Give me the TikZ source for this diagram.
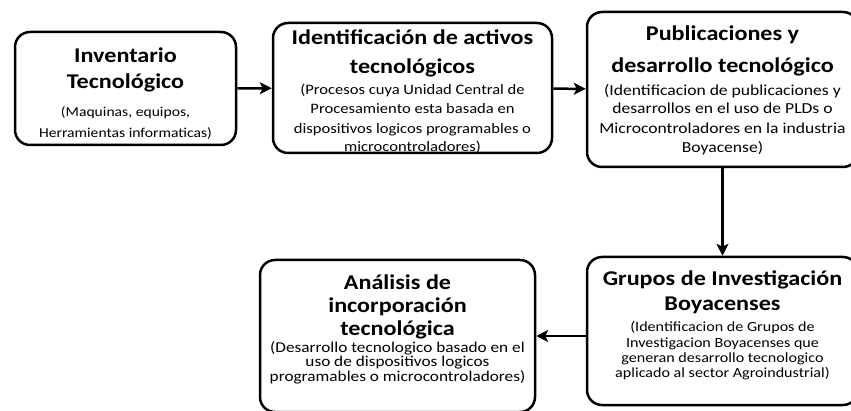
\documentclass[tikz,border=0pt]{standalone}
\usepackage{fontspec}
\setmainfont{Carlito}[FakeStretch=1.15]
\usetikzlibrary{arrows.meta}

\newcommand{\titulo}[1]{{\fontsize{21}{0}\selectfont\bfseries #1}}
\newcommand{\letra}[1]{\fontsize{#1}{0}\selectfont\lineskiplimit=-100pt}

\begin{document}
\begin{tikzpicture}[x=1pt,y=-1pt]
	\tikzstyle{every path}=[line width=2.5pt]
	\tikzstyle{caja}=[draw,rounded corners=15pt,inner sep=0pt]
	\tikzstyle{texto}=[align=center,inner sep=0pt]
	\tikzstyle{flecha}=[-{Stealth[length=12pt,width=12pt,inset=3pt]}]

	\useasboundingbox (0,0) rectangle (851,411);

	%% Fila superior
	\node [caja,minimum width=221pt,minimum height=113pt] (inv) at (125.5,88.5) {};
	\node [texto,font=\letra{13.6}] (inv-t) at (125.5,93.5)
	{\titulo{Inventario}\\[26pt]\titulo{Tecnológico}\\[28pt]
	(Maquinas, equipos,\\[21.5pt]Herramientas informaticas)};

	\node [caja,minimum width=279pt,minimum height=130pt] (ident) at (412.5,88) {};
	\node [texto,font=\letra{14.4}] (ident-t) at (412.5,91.2)
	{\titulo{Identificación de activos}\\[29pt]\titulo{tecnológicos}\\[21pt]
	(Procesos cuya Unidad Central de\\[19pt]Procesamiento esta basada en\\[20pt]
	dispositivos logicos programables o\\[18pt]microcontroladores)};

	\node [caja,minimum width=271pt,minimum height=155pt] (publ) at (722.5,89.5) {};
	\node [texto,font=\letra{15.3}] (publ-t) at (722.5,90.8)
	{\titulo{Publicaciones y}\\[32pt]\titulo{desarrollo tecnológico}\\[23pt]
	(Identificacion de publicaciones y\\[18pt]desarrollos en el uso de PLDs o\\[20pt]
	Microcontroladores en la industria\\[19pt]Boyacense)};

	%% Fila inferior
	\node [caja,minimum width=271pt,minimum height=148pt] (grupos) at (722.5,331) {};
	\node [texto,font=\letra{14}] (grupos-t) at (722.5,325.8)
	{\titulo{Grupos de Investigación}\\[25pt]\titulo{Boyacenses}\\[21pt]
	(Identificacion de Grupos de\\[16pt]Investigacion Boyacenses que\\[15pt]
	generan desarrollo tecnologico\\[15pt]aplicado al sector Agroindustrial)};

	\node [caja,minimum width=275pt,minimum height=152pt] (anal) at (397.5,336) {};
	\node [texto,font=\letra{15}] (anal-t) at (397.5,329)
	{\titulo{Análisis de}\\[23pt]\titulo{incorporación}\\[23pt]\titulo{tecnológica}\\[17pt]
	(Desarrollo tecnologico basado en el\\[14.5pt]uso de dispositivos logicos\\[14.5pt]
	programables o microcontroladores)};

	%% Flechas
	\draw [flecha] (inv) -- (ident);
	\draw [flecha] (ident) -- (publ);
	\draw [flecha] (publ) -- (grupos);
	\draw [flecha] (grupos.west |- anal.east) -- (anal.east);
\end{tikzpicture}
\end{document}
